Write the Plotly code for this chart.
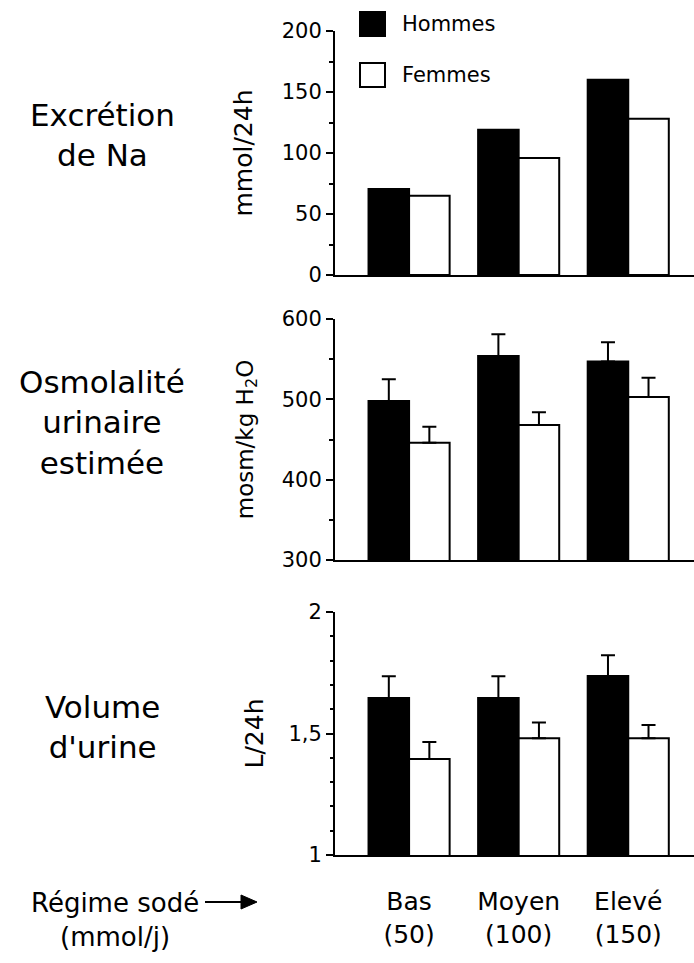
import plotly.graph_objects as go

W, H = 694, 963

categories = ["Bas", "Moyen", "Elevé"]
doses = ["(50)", "(100)", "(150)"]
series_names = ["Hommes", "Femmes"]

na_hommes = [70.5, 119, 160]
na_femmes = [65, 96, 128]

osm_hommes = [498, 554, 547]
osm_femmes = [446, 468, 503]
osm_err_hommes = [27, 27, 24]
osm_err_femmes = [20, 16, 24]

vol_hommes = [1.646, 1.646, 1.737]
vol_femmes = [1.395, 1.48, 1.48]
vol_err_hommes = [0.09, 0.09, 0.085]
vol_err_femmes = [0.07, 0.065, 0.055]

na_ticks = [0, 50, 100, 150, 200]
na_ticktext = ["0", "50", "100", "150", "200"]
osm_ticks = [300, 400, 500, 600]
osm_ticktext = ["300", "400", "500", "600"]
vol_ticks = [1, 1.5, 2]
vol_ticktext = ["1", "1,5", "2"]


def py(y):
    return 1 - y / H


def px(x):
    return x / W


FAM = "DejaVu Sans"
LABEL_FONT = dict(family=FAM, size=31, color="black")
TICK_FONT = dict(family=FAM, size=21, color="black")

fig = go.Figure()

panels = [
    ("", na_hommes, na_femmes, None, None),
    ("2", osm_hommes, osm_femmes, osm_err_hommes, osm_err_femmes),
    ("3", vol_hommes, vol_femmes, vol_err_hommes, vol_err_femmes),
]

for suffix, hv, fv, he, fe in panels:
    for name, vals, err, fill in [
        (series_names[0], hv, he, "black"),
        (series_names[1], fv, fe, "white"),
    ]:
        kw = {}
        if err is not None:
            kw["error_y"] = dict(
                type="data", array=err, arrayminus=[0] * len(err),
                symmetric=False, color="black", thickness=2, width=7,
            )
        fig.add_trace(go.Bar(
            x=categories, y=vals, name=name, showlegend=False,
            marker=dict(color=fill, line=dict(color="black", width=2)),
            xaxis="x" + suffix, yaxis="y" + suffix, **kw,
        ))

xdom = [px(335), 1.0]
xrange = [-0.676, 2.60]

common_x = dict(
    domain=xdom, range=xrange, showline=True, linecolor="black", linewidth=2,
    ticks="", showgrid=False, zeroline=False, automargin=False,
)
common_y = dict(
    showline=True, linecolor="black", linewidth=2, ticks="outside",
    ticklen=7, tickwidth=2, tickcolor="black", showgrid=False, zeroline=False,
    tickfont=TICK_FONT, automargin=False,
)

fig.update_layout(
    width=W, height=H, margin=dict(l=0, r=0, t=0, b=0, autoexpand=False),
    paper_bgcolor="white", plot_bgcolor="white",
    barmode="group", bargap=0.26, bargroupgap=0,
    showlegend=False, hovermode=False,
    xaxis=dict(common_x, anchor="y", showticklabels=False),
    xaxis2=dict(common_x, anchor="y2", showticklabels=False),
    xaxis3=dict(
        common_x, anchor="y3", showticklabels=True,
        tickvals=categories,
        ticktext=[f"{c}<br>{d}" for c, d in zip(categories, doses)],
        tickfont=dict(family=FAM, size=25, color="black"),
        ticklabelstandoff=23,
    ),
    yaxis=dict(
        common_y, anchor="x", domain=[py(275), py(31)], range=[0, 200],
        tickvals=na_ticks, ticktext=na_ticktext,
        minor=dict(dtick=25, ticks="outside", ticklen=4, tickwidth=2, tickcolor="black"),
        title=dict(text="mmol/24h", standoff=22,
                   font=dict(family=FAM, size=25, color="black")),
    ),
    yaxis2=dict(
        common_y, anchor="x2", domain=[py(560), py(319)], range=[300, 600],
        tickvals=osm_ticks, ticktext=osm_ticktext,
        minor=dict(dtick=50, ticks="outside", ticklen=4, tickwidth=2, tickcolor="black"),
        title=dict(text="mosm/kg H<sub>2</sub>O", standoff=22,
                   font=dict(family=FAM, size=23, color="black")),
    ),
    yaxis3=dict(
        common_y, anchor="x3", domain=[py(855), py(612)], range=[1, 2],
        tickvals=vol_ticks, ticktext=vol_ticktext,
        minor=dict(dtick=0.1, ticks="outside", ticklen=3, tickwidth=2, tickcolor="black"),
        title=dict(text="L/24h", standoff=18,
                   font=dict(family=FAM, size=25, color="black")),
    ),
)

# Legend (drawn manually for large swatches)
for i, (name, fill) in enumerate(zip(series_names, ["black", "white"])):
    y0, y1 = 12 + i * 51, 36 + i * 51
    fig.add_shape(type="rect", xref="paper", yref="paper",
                  x0=px(360), x1=px(385), y0=py(y1), y1=py(y0),
                  fillcolor=fill, line=dict(color="black", width=2))
    fig.add_annotation(xref="paper", yref="paper", x=px(400), y=py((y0 + y1) / 2),
                       text=name, showarrow=False, xanchor="left", yanchor="middle",
                       font=dict(family=FAM, size=21, color="black"))

# Left panel labels
left_labels = [
    ("Excrétion<br>de Na", 135),
    ("Osmolalité<br>urinaire<br>estimée", 422),
    ("Volume<br>d'urine", 727),
]
for txt, yc in left_labels:
    fig.add_annotation(xref="paper", yref="paper", x=px(102), y=py(yc),
                       text=txt, showarrow=False, xanchor="center", yanchor="middle",
                       align="center", font=LABEL_FONT)

# Bottom label with arrow
fig.add_annotation(xref="paper", yref="paper", x=px(115), y=py(920),
                   text="Régime sodé<br>(mmol/j)", showarrow=False,
                   xanchor="center", yanchor="middle", align="center",
                   font=dict(family=FAM, size=26, color="black"))
fig.add_shape(type="line", xref="paper", yref="paper",
              x0=px(205), x1=px(244), y0=py(902), y1=py(902),
              line=dict(color="black", width=2))
fig.add_shape(type="path", xref="paper", yref="paper",
              path=(f"M {px(241)} {py(895)} L {px(257)} {py(902)} "
                    f"L {px(241)} {py(909)} Z"),
              fillcolor="black", line=dict(color="black", width=1))

fig.write_html("out.html", config={"displayModeBar": False},
               post_script="document.body.style.margin='0';document.body.style.overflow='hidden';")
